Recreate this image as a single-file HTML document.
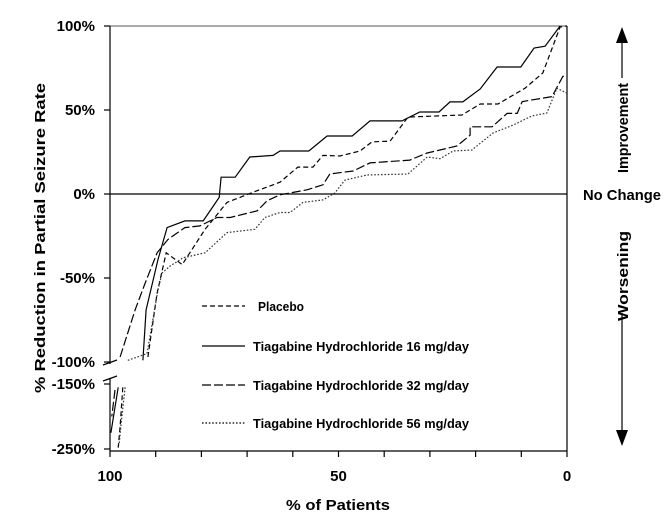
<!DOCTYPE html>
<html><head><meta charset="utf-8"><style>
body{margin:0;background:#fff}
svg{display:block;font-family:"Liberation Sans",Arial,sans-serif;font-weight:bold}
</style></head><body>
<svg id="chart" width="667" height="525" viewBox="0 0 667 525" xmlns="http://www.w3.org/2000/svg">
<g id="axes" stroke="#000" stroke-width="1.2" fill="none">
<line x1="110" y1="26" x2="567" y2="26" stroke="#777"/>
<line x1="567" y1="26" x2="567" y2="451"/>
<line x1="110" y1="26" x2="110" y2="364"/>
<line x1="110" y1="378" x2="110" y2="451"/>
<line x1="103" y1="365" x2="117" y2="360"/>
<line x1="103" y1="381" x2="117" y2="376"/>
<line x1="110" y1="451" x2="567" y2="451"/>
<line x1="110" y1="194" x2="567" y2="194"/>
</g>
<g id="ticks" stroke="#000" stroke-width="1.2"></g>
<g id="labels" font-size="15"></g>
<g id="series" fill="none" stroke-width="1.2"></g>
<g id="legend" font-size="12.5"></g>
<text x="338" y="510" font-size="15" text-anchor="middle" textLength="104" lengthAdjust="spacingAndGlyphs">% of Patients</text>
<text transform="translate(45,238) rotate(-90)" font-size="15" text-anchor="middle" textLength="310" lengthAdjust="spacingAndGlyphs">% Reduction in Partial Seizure Rate</text>
<g>
<line x1="622" y1="40" x2="622" y2="78" stroke="#000" stroke-width="1.2"/>
<polygon points="622,27 616,43 628,43" fill="#000"/>
<text transform="translate(628,128) rotate(-90)" font-size="15" text-anchor="middle" textLength="90" lengthAdjust="spacingAndGlyphs">Improvement</text>
<text x="622" y="200" font-size="15" text-anchor="middle" textLength="78" lengthAdjust="spacingAndGlyphs">No Change</text>
<text transform="translate(628,276) rotate(-90)" font-size="15" text-anchor="middle" textLength="90" lengthAdjust="spacingAndGlyphs">Worsening</text>
<line x1="622" y1="313" x2="622" y2="432" stroke="#000" stroke-width="1.2"/>
<polygon points="622,446 616,430 628,430" fill="#000"/>
</g>
</svg>
<script>
const yTicksUpper=[100,50,0,-50,-100];
const yTicksLower=[-150,-250];
const xTicks=[100,90,80,70,60,50,40,30,20,10,0];
const xLabels=[100,50,0];
const seriesNames=["Placebo","Tiagabine Hydrochloride 16 mg/day","Tiagabine Hydrochloride 32 mg/day","Tiagabine Hydrochloride 56 mg/day"];
const placebo=[[97.2,-155],[97.8,-216],[98.2,-248]];
const placeboUpper=[[91.7,-97],[89.7,-59],[87.7,-35],[84.2,-42],[79.2,-21],[74.4,-5],[68.7,1],[62.8,7],[58.9,16],[55.6,16],[53.4,23],[49.7,22.6],[45.3,25.6],[42.7,31],[38.7,31.5],[34.8,45.8],[23,47],[19,53.6],[15.1,53.6],[9.2,63],[5.3,72],[1.5,99.4],[0,100]];
const t16Lower=[[98.2,-155],[99.8,-225]];
const t16Upper=[[92.8,-99],[92.1,-69],[89.5,-39],[87.5,-20],[83.6,-16],[79.6,-16],[76.1,-2],[75.7,10],[72.6,10],[69.4,22],[64.3,23],[62.8,25.6],[56.5,25.6],[52.5,34.5],[47,34.5],[43.1,43.5],[36.1,43.5],[32.2,48.8],[28,48.8],[25.6,54.8],[22.8,54.8],[19,62.5],[15.3,75.6],[10.1,75.6],[7.2,86.9],[4.8,88],[1.5,100]];
const t32Lower=[[98.9,-159],[99.6,-200]];
const t32Upper=[[97.8,-97],[94.5,-69],[92.3,-53],[89.7,-35],[87.3,-27],[83.6,-20],[80.3,-19],[76.6,-14],[73.7,-14],[67.8,-10],[65.6,-4],[62.8,-0.5],[56.9,2.5],[53.4,5.5],[51.9,11.9],[46.8,13.7],[43.1,18.5],[34.4,20.2],[30.6,24.4],[27.8,26.2],[24.1,28.6],[21.2,35],[21.2,40],[16.4,40],[13.1,48],[10.9,48],[9.8,55],[3.3,58],[0.9,70],[0,70]];
const t56Lower=[[96.7,-155],[97.6,-213],[98,-244]];
const t56Upper=[[96.1,-99],[91.9,-95],[89.5,-57],[88.6,-47],[86.9,-43],[84,-38],[79.2,-35],[74.4,-23],[68.3,-21],[66.1,-14],[62.8,-11],[60.6,-11],[57.8,-5],[53.4,-3.5],[50.8,0.6],[48.6,8.3],[43.8,11.3],[34.8,11.9],[30.6,22],[27.8,21],[24.9,25.6],[20.8,26.2],[16.2,36.3],[11.8,41],[7.7,46.4],[4.4,48.2],[2.2,63],[0,60]];
const seriesData=[[placebo,placeboUpper],[t16Lower,t16Upper],[t32Lower,t32Upper],[t56Lower,t56Upper]];
const dashes=["5,3","","9,3","1.6,1.8"];
const seriesKeys=["placebo","tiagabine-16mg","tiagabine-32mg","tiagabine-56mg"];

const NS="http://www.w3.org/2000/svg";
function xs(p){return 567-(p/100)*457;}
function ys(v){return v>=-100?194-v*1.68:384+(-150-v)*0.65;}
function mk(tag,parent,attrs){const e=document.createElementNS(NS,tag);for(const k in attrs)e.setAttribute(k,attrs[k]);parent.appendChild(e);return e;}
const ticks=document.getElementById('ticks'),labels=document.getElementById('labels');
yTicksUpper.concat(yTicksLower).forEach(v=>{
  const t=mk('line',ticks,{x1:104,x2:110,y1:ys(v),y2:ys(v)});
  
  
  const l=mk('text',labels,{x:95,y:ys(v)+5,'text-anchor':'end'});
  
  
  l.textContent=v+'%';
});
xTicks.forEach(p=>{
  const t=mk('line',ticks,{x1:xs(p),x2:xs(p),y1:451,y2:457});
  
  
});
xLabels.forEach(p=>{
  const l=mk('text',labels,{x:xs(p),y:481,'text-anchor':'middle'});
  
  
  l.textContent=p;
});
const sg=document.getElementById('series');
seriesData.forEach((parts,i)=>{
  parts.forEach(pts=>{
    const p=mk('polyline',sg,{points:pts.map(d=>xs(d[0]).toFixed(1)+','+ys(d[1]).toFixed(1)).join(' '),stroke:i==3?'#333':'#000','stroke-dasharray':dashes[i]});
    
    
  });
});
const lg=document.getElementById('legend');
const legY=[306,346,385,423];
seriesNames.forEach((n,i)=>{
  const g=mk('g',lg,{});
  
  
  mk('line',g,{x1:202,x2:245,y1:legY[i],y2:legY[i],stroke:'#000','stroke-width':1.2,'stroke-dasharray':dashes[i]});
  const t=mk('text',g,{x:i==0?258:253,y:legY[i]+5});
  if(i>0){t.setAttribute('textLength',216);t.setAttribute('lengthAdjust','spacingAndGlyphs');}
  else{t.setAttribute('textLength',46);t.setAttribute('lengthAdjust','spacingAndGlyphs');}
  t.textContent=n;
});
</script>
</body></html>
